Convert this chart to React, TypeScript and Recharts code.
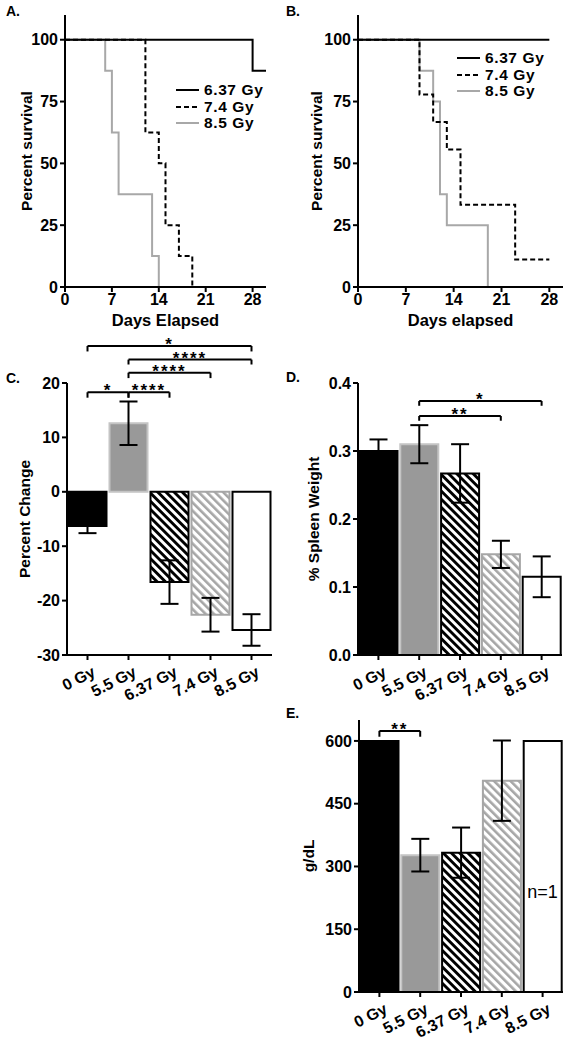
import React from "react";
import { LineChart, Line, BarChart, Bar, Cell, XAxis, YAxis, ErrorBar, ReferenceLine, ReferenceDot, Legend } from "recharts";

const FONT = '"Liberation Sans", Arial, sans-serif';

// Panel A survival (day, percent)
const a637 = [{ day: 0, pct: 100 }, { day: 28, pct: 87.5 }, { day: 30, pct: 87.5 }];
const a74 = [{ day: 0, pct: 100 }, { day: 12, pct: 62.5 }, { day: 14, pct: 50 }, { day: 15, pct: 25 }, { day: 17, pct: 12.5 }, { day: 19, pct: 0 }];
const a85 = [{ day: 0, pct: 100 }, { day: 6, pct: 87.5 }, { day: 7, pct: 62.5 }, { day: 8, pct: 37.5 }, { day: 13, pct: 12.5 }, { day: 14, pct: 0 }];

// Panel B survival
const b637 = [{ day: 0, pct: 100 }, { day: 28, pct: 100 }];
const b74 = [{ day: 0, pct: 100 }, { day: 9, pct: 77.8 }, { day: 11, pct: 66.7 }, { day: 13, pct: 55.6 }, { day: 15, pct: 33.3 }, { day: 23, pct: 11.1 }, { day: 28, pct: 11.1 }];
const b85 = [{ day: 0, pct: 100 }, { day: 9, pct: 87.5 }, { day: 11, pct: 75 }, { day: 12, pct: 37.5 }, { day: 13, pct: 25 }, { day: 19, pct: 0 }];

const dayTicks = [0, 7, 14, 21, 28];
const pctTicks = [0, 25, 50, 75, 100];

// bar panels
const doses = ["0 Gy", "5.5 Gy", "6.37 Gy", "7.4 Gy", "8.5 Gy"];
const changeMean = [-6.3, 12.6, -16.6, -22.6, -25.4];
const changeErr = [1.3, 4.0, 4.0, 3.1, 2.9];
const spleenMean = [0.3, 0.31, 0.267, 0.148, 0.115];
const spleenErr = [0.017, 0.028, 0.043, 0.02, 0.03];
const hgbMean = [600, 327, 333, 505, 600];
const hgbErr = [0, 39, 60, 96, 0];

const changeBrackets = [
  { from: "0 Gy", to: "5.5 Gy", y: 18.3, drop: 1.0, label: "*" },
  { from: "5.5 Gy", to: "6.37 Gy", y: 18.3, drop: 1.0, label: "****" },
  { from: "5.5 Gy", to: "7.4 Gy", y: 21.9, drop: 1.0, label: "****" },
  { from: "5.5 Gy", to: "8.5 Gy", y: 24.3, drop: 0.9, label: "****" },
  { from: "0 Gy", to: "8.5 Gy", y: 26.8, drop: 1.0, label: "*" },
];
const spleenBrackets = [
  { from: "5.5 Gy", to: "7.4 Gy", y: 0.3515, drop: 0.007, label: "**" },
  { from: "5.5 Gy", to: "8.5 Gy", y: 0.3735, drop: 0.007, label: "*" },
];
const hgbBrackets = [{ from: "0 Gy", to: "5.5 Gy", y: 624, drop: 14, label: "**" }];

const fills = ["#000", "#999999", "url(#hatchBlack)", "url(#hatchGray)", "#fff"];
const strokes = ["#000", "#c4c4c4", "#000", "#a6a6a6", "#000"];

const axisLine = { stroke: "#000", strokeWidth: 2 };
const tickStyle = { fill: "#000", fontSize: 16, fontWeight: "bold", fontFamily: FONT };
const labelStyle = { fill: "#000", fontSize: 15.5, fontWeight: "bold", fontFamily: FONT };

const series = [
  { name: "6.37 Gy", color: "#000", dash: undefined },
  { name: "7.4 Gy", color: "#000", dash: "5 3" },
  { name: "8.5 Gy", color: "#a8a8a8", dash: undefined },
];

const SurvLegend = () => (
  <div style={{ fontFamily: FONT, fontWeight: "bold", fontSize: 15.5, lineHeight: "16.5px" }}>
    {series.map((s) => (
      <div key={s.name} style={{ display: "flex", alignItems: "center", whiteSpace: "nowrap", height: 16.5 }}>
        <svg width={28} height={10}>
          <line x1={0} y1={5} x2={23} y2={5} stroke={s.color} strokeWidth={2} strokeDasharray={s.dash} />
        </svg>
        <span style={{ letterSpacing: 0.6 }}>{s.name}</span>
      </div>
    ))}
  </div>
);

const SlantTick = (props: any) => {
  const { x, y, payload } = props;
  return (
    <g transform={`translate(${x},${y})`}>
      <text x={2} y={0} dy={16} textAnchor="end" transform="rotate(-27)" style={tickStyle}>
        {payload.value}
      </text>
    </g>
  );
};

const Patterns = () => (
  <defs>
    <pattern id="hatchBlack" width={5.8} height={5.8} patternUnits="userSpaceOnUse" patternTransform="rotate(-45)">
      <rect width={5.8} height={5.8} fill="#fff" />
      <rect width={2.9} height={5.8} fill="#000" />
    </pattern>
    <pattern id="hatchGray" width={5.8} height={5.8} patternUnits="userSpaceOnUse" patternTransform="rotate(-45)">
      <rect width={5.8} height={5.8} fill="#fff" />
      <rect width={2.6} height={5.8} fill="#a6a6a6" />
    </pattern>
  </defs>
);

const bracketLines = (list: any[], prefix: string) =>
  list.flatMap((b, i) => [
    <ReferenceLine
      key={`${prefix}h${i}`}
      segment={[{ x: b.from, y: b.y }, { x: b.to, y: b.y }]}
      stroke="#000"
      strokeWidth={2}
      ifOverflow="visible"
      label={{ value: b.label, position: "top", offset: -4, fill: "#000", fontSize: 17, fontWeight: "bold", fontFamily: FONT, letterSpacing: 2 }}
    />,
    <ReferenceLine key={`${prefix}l${i}`} segment={[{ x: b.from, y: b.y }, { x: b.from, y: b.y - b.drop }]} stroke="#000" strokeWidth={2} ifOverflow="visible" />,
    <ReferenceLine key={`${prefix}r${i}`} segment={[{ x: b.to, y: b.y }, { x: b.to, y: b.y - b.drop }]} stroke="#000" strokeWidth={2} ifOverflow="visible" />,
  ]);

const panelLabel = (text: string, left: number, top: number) => (
  <div style={{ position: "absolute", left, top, fontFamily: FONT, fontWeight: "bold", fontSize: 14 }}>{text}</div>
);

const changeData = doses.map((dose, i) => ({ dose, value: changeMean[i], err: changeErr[i] }));
const spleenData = doses.map((dose, i) => ({ dose, value: spleenMean[i], err: spleenErr[i] }));
const hgbData = doses.map((dose, i) => ({ dose, value: hgbMean[i], err: hgbErr[i] }));

const SurvivalChart = ({ d637, d74, d85, yWidth, right, xLabel, legendLeft, legendTop, labelDx }: any) => (
  <LineChart width={yWidth === 65 ? 285 : 290} height={335} margin={{ top: 15, right, bottom: 0, left: 0 }}>
    <XAxis
      type="number"
      dataKey="day"
      domain={[0, 30]}
      ticks={dayTicks}
      height={48}
      axisLine={axisLine}
      tickLine={axisLine}
      tickSize={5}
      tick={tickStyle}
      label={{ value: xLabel, position: "insideBottom", offset: 9, style: { ...labelStyle, fontSize: 16.5 } }}
    />
    <YAxis
      type="number"
      domain={[0, 110]}
      ticks={pctTicks}
      width={yWidth}
      axisLine={axisLine}
      tickLine={axisLine}
      tickSize={5}
      tick={tickStyle}
      label={{ value: "Percent survival", angle: -90, position: "center", dx: labelDx, style: { ...labelStyle, textAnchor: "middle" } }}
    />
    <Legend layout="vertical" align="center" verticalAlign="middle" content={<SurvLegend />} wrapperStyle={{ left: legendLeft, top: legendTop, width: 110 }} />
    <Line data={d85} dataKey="pct" type="stepAfter" stroke="#a8a8a8" strokeWidth={2} dot={false} isAnimationActive={false} />
    <Line data={d74} dataKey="pct" type="stepAfter" stroke="#000" strokeWidth={2} strokeDasharray="5 3" dot={false} isAnimationActive={false} />
    <Line data={d637} dataKey="pct" type="stepAfter" stroke="#000" strokeWidth={2} dot={false} isAnimationActive={false} />
  </LineChart>
);

const BarPanel = ({ data, width, height, margin, yWidth, xHeight, domain, ticks, fmt, yLabel, labelDx, brackets, prefix, children }: any) => (
  <BarChart width={width} height={height} data={data} margin={margin} barCategoryGap={1.5}>
    <Patterns />
    <XAxis dataKey="dose" height={xHeight} axisLine={axisLine} tickLine={axisLine} tickSize={5} tick={<SlantTick />} interval={0} />
    <YAxis
      type="number"
      domain={domain}
      ticks={ticks}
      width={yWidth}
      axisLine={axisLine}
      tickLine={axisLine}
      tickSize={5}
      tick={tickStyle}
      tickFormatter={fmt}
      allowDataOverflow
      label={{ value: yLabel, angle: -90, position: "center", dx: labelDx, style: { ...labelStyle, textAnchor: "middle" } }}
    />
    <Bar dataKey="value" strokeWidth={2} isAnimationActive={false}>
      {data.map((d: any, i: number) => (
        <Cell key={d.dose} fill={fills[i]} stroke={strokes[i]} />
      ))}
      <ErrorBar dataKey="err" width={9} stroke="#000" strokeWidth={2} />
    </Bar>
    {bracketLines(brackets, prefix)}
    {children}
  </BarChart>
);

export default function App() {
  return (
    <div style={{ position: "absolute", left: 0, top: 0, width: 570, height: 1042, background: "#fff", overflow: "hidden" }}>
      {panelLabel("A.", 6, 3)}
      {panelLabel("B.", 286, 3)}
      {panelLabel("C.", 6, 370)}
      {panelLabel("D.", 286, 369)}
      {panelLabel("E.", 286, 705)}

      <div style={{ position: "absolute", left: 0, top: 0 }}>
        <SurvivalChart d637={a637} d74={a74} d85={a85} yWidth={65} right={19} xLabel="Days Elapsed" legendLeft={176} legendTop={82} labelDx={-6} />
      </div>
      <div style={{ position: "absolute", left: 280, top: 0 }}>
        <SurvivalChart d637={b637} d74={b74} d85={b85} yWidth={78} right={7} xLabel="Days elapsed" legendLeft={177} legendTop={50} labelDx={-3} />
      </div>

      <div style={{ position: "absolute", left: 0, top: 320 }}>
        <BarPanel
          data={changeData}
          width={285}
          height={390}
          margin={{ top: 63, right: 13, bottom: 0, left: 0 }}
          yWidth={67}
          xHeight={55}
          domain={[-30, 20]}
          ticks={[-30, -20, -10, 0, 10, 20]}
          yLabel="Percent Change"
          labelDx={-9}
          brackets={changeBrackets}
          prefix="c"
        />
      </div>

      <div style={{ position: "absolute", left: 280, top: 340 }}>
        <BarPanel
          data={spleenData}
          width={290}
          height={370}
          margin={{ top: 43, right: 8, bottom: 0, left: 0 }}
          yWidth={78}
          xHeight={55}
          domain={[0, 0.4]}
          ticks={[0, 0.1, 0.2, 0.3, 0.4]}
          fmt={(v: number) => v.toFixed(1)}
          yLabel="% Spleen Weight"
          labelDx={-6}
          brackets={spleenBrackets}
          prefix="d"
        />
      </div>

      <div style={{ position: "absolute", left: 280, top: 700 }}>
        <BarPanel
          data={hgbData}
          width={290}
          height={342}
          margin={{ top: 20, right: 7, bottom: 0, left: 0 }}
          yWidth={79}
          xHeight={50}
          domain={[0, 650]}
          ticks={[0, 150, 300, 450, 600]}
          yLabel="g/dL"
          labelDx={-11}
          brackets={hgbBrackets}
          prefix="e"
        >
          <ReferenceDot x="8.5 Gy" y={239} r={0} fill="none" stroke="none" ifOverflow="visible" label={{ value: "n=1", position: "center", fill: "#000", fontSize: 18, fontFamily: FONT }} />
        </BarPanel>
      </div>
    </div>
  );
}
